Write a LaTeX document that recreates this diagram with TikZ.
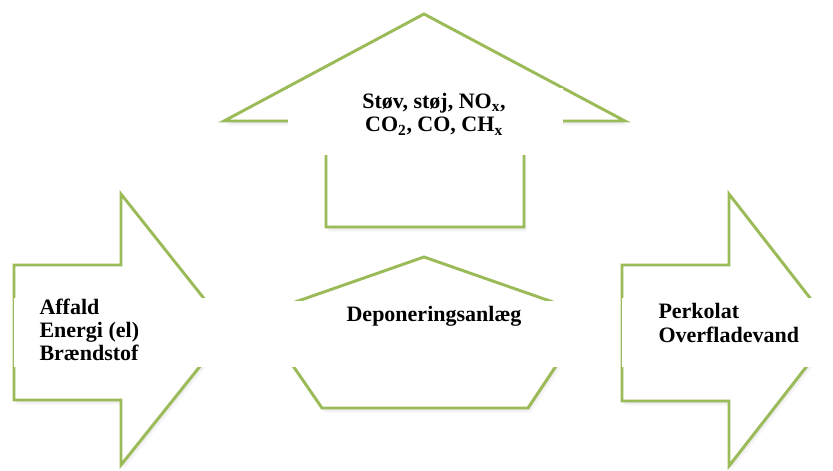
\documentclass[tikz,border=0pt]{standalone}
\usepackage{fontspec}
\setmainfont{Liberation Serif}
\usetikzlibrary{shadows}
\definecolor{olivegreen}{RGB}{155,187,89}

\tikzset{every picture/.style={line width=0.75pt}}

\begin{document}
\begin{tikzpicture}[x=0.75pt,y=0.75pt,yscale=-1,xscale=1,
  flowshape/.style={draw=olivegreen, line width=2.2pt, fill=white, line join=miter,
    drop shadow={shadow xshift=1pt, shadow yshift=-2pt, opacity=0.10},
    drop shadow={shadow xshift=2pt, shadow yshift=-3.5pt, opacity=0.07}},
  coverbox/.style={fill=white},
  txt/.style={font=\fontsize{16.5}{17.5}\selectfont\bfseries, inner sep=0pt}]
\useasboundingbox (0,0) rectangle (833,471);

%Shape: Up Arrow [id:emission]
\draw [flowshape] (424,14) -- (625,121) -- (524,121) -- (524,227) -- (326,227) -- (326,121) -- (224,121) -- cycle ;
%Shape: Right Arrow [id:input]
\draw [flowshape] (14,265) -- (121,265) -- (121,194) -- (229,330) -- (121,465) -- (121,400) -- (14,400) -- cycle ;
%Shape: Pentagon [id:landfill]
\draw [flowshape] (424,257) -- (590,315) -- (528,408) -- (322,408) -- (258,315) -- cycle ;
%Shape: Right Arrow [id:output]
\draw [flowshape] (622,265) -- (729,265) -- (729,194) -- (835,330) -- (729,466) -- (729,401) -- (622,401) -- cycle ;

%Shape: Rectangle [id:textboxes]
\fill [coverbox] (288,88) rectangle (563,155) ;
\fill [coverbox] (14,298) rectangle (242,367) ;
\fill [coverbox] (250,301) rectangle (604,367) ;
\fill [coverbox] (622,298) rectangle (840,367) ;

% Text Node
\draw (434,131.7) node (emis) [txt, anchor=base, align=center] {Støv, støj, NO\textsubscript{x},\\CO\textsubscript{2}, CO, CH\textsubscript{x}};
% Text Node
\draw (39,360.7) node (ind) [txt, anchor=base west, align=left] {Affald\\Energi (el)\\Brændstof};
% Text Node
\draw (434,321.7) node (depo) [txt, anchor=base] {Deponeringsanlæg};
% Text Node
\draw (658,342.3) node (ud) [txt, anchor=base west, align=left] {Perkolat\\Overfladevand};

\end{tikzpicture}
\end{document}
